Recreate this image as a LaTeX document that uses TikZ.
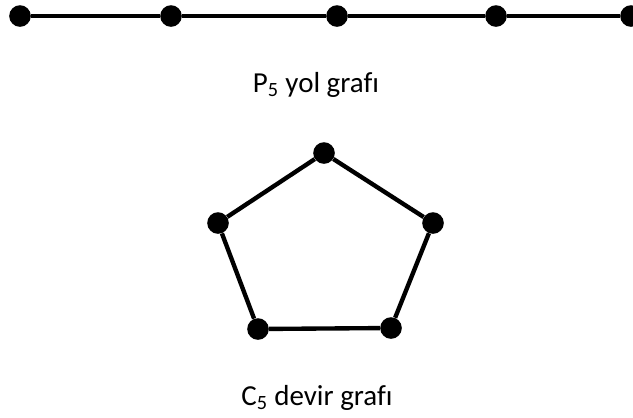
\documentclass[tikz,border=0pt]{standalone}
\usepackage{fontspec}
\setmainfont{Carlito}[Ligatures=NoCommon]

\begin{document}
\begin{tikzpicture}[x=0.025cm, y=-0.025cm,
	every node/.style={font=\fontsize{20.6pt}{24pt}\selectfont},
	dot/.style={circle, fill=black, inner sep=0pt, minimum size=0.54cm},
	edge/.style={line width=3.1pt}]
	\useasboundingbox (0,0) rectangle (633,417);
	% path graph
	\foreach \x [count=\i] in {20,171,337,496,631} {
		\node[dot] (p\i) at (\x,16) {};
	}
	\draw[edge] (p1) -- (p2) -- (p3) -- (p4) -- (p5);
	\node[anchor=base] (plabel) at (316,92) {P\textsubscript{5} yol grafı};
	% cycle graph
	\foreach \x/\y [count=\i] in {324/153, 433/223, 391/328, 258/329, 218/223} {
		\node[dot] (c\i) at (\x,\y) {};
	}
	\draw[edge] (c1) -- (c2) -- (c3) -- (c4) -- (c5) -- (c1);
	\node[anchor=base] (clabel) at (317,405) {C\textsubscript{5} devir grafı};
\end{tikzpicture}
\end{document}
